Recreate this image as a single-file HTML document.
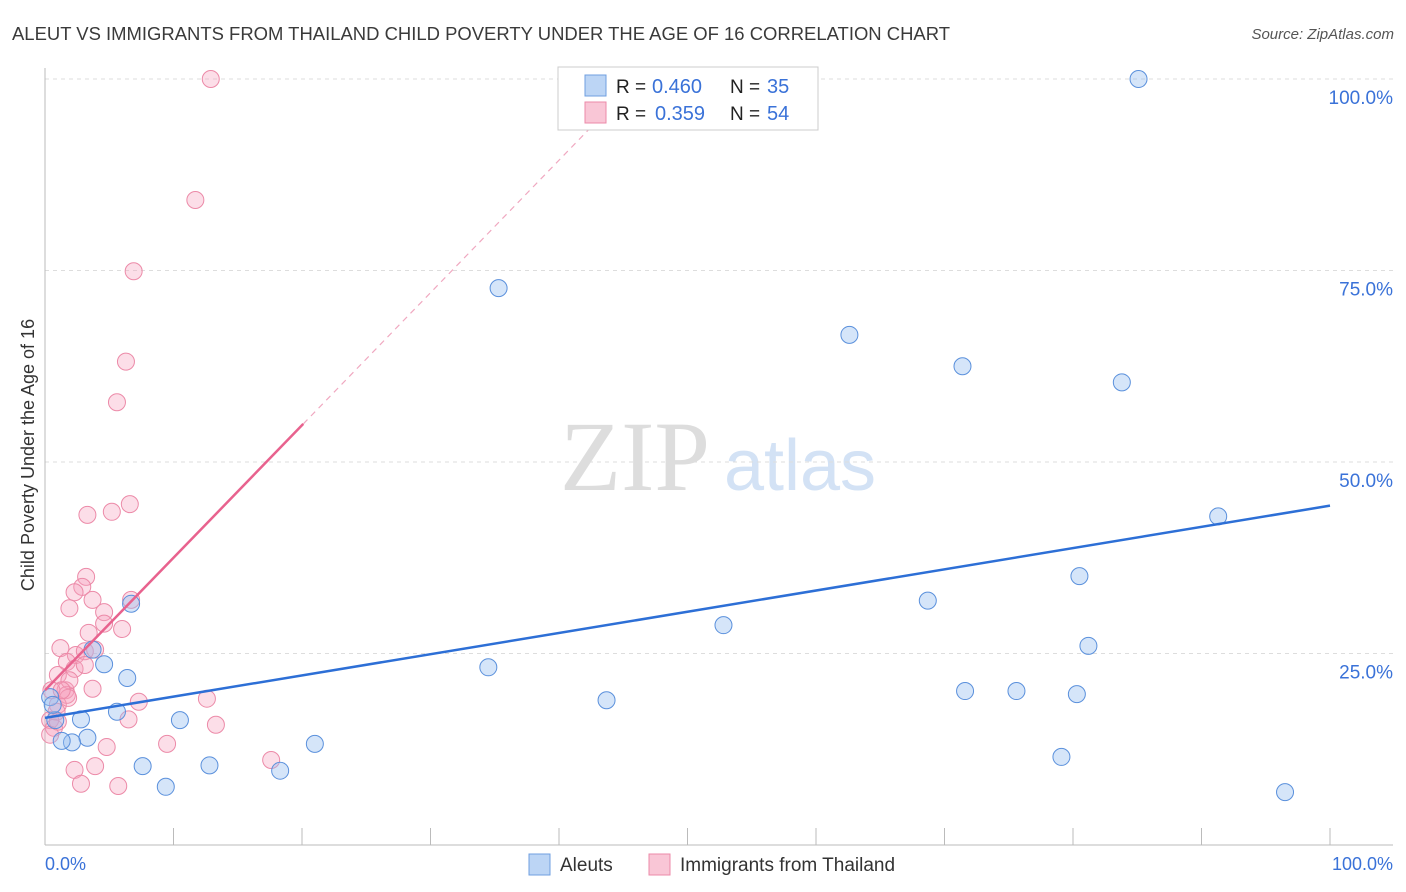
<!DOCTYPE html>
<html><head><meta charset="utf-8"><style>
body{margin:0;background:#fff;font-family:"Liberation Sans",sans-serif;}
</style></head><body>
<svg width="1406" height="892" style="display:block">
<text x="12" y="40" font-size="18" fill="#3a3a3a" textLength="938" lengthAdjust="spacingAndGlyphs">ALEUT VS IMMIGRANTS FROM THAILAND CHILD POVERTY UNDER THE AGE OF 16 CORRELATION CHART</text>
<text x="1394" y="39" font-size="15" font-style="italic" fill="#555" text-anchor="end">Source: ZipAtlas.com</text>
<text x="34" y="455" font-size="18" fill="#333" text-anchor="middle" transform="rotate(-90 34 455)">Child Poverty Under the Age of 16</text>
<g>
<text x="635" y="490" font-size="100" font-family="Liberation Serif,serif" fill="#ddd" text-anchor="middle">ZIP</text>
<text x="800" y="490" font-size="72" fill="#d3e2f5" text-anchor="middle">atlas</text>
</g>
<g id="grid"></g>
<g id="marks"></g>
<g>
<rect x="558" y="67" width="260" height="63" fill="#fff" stroke="#ccc"/>
<rect x="585" y="75" width="21" height="21" fill="#bcd5f5" stroke="#6f9fe0"/>
<rect x="585" y="102" width="21" height="21" fill="#f9c6d6" stroke="#ec8aa8"/>
<text x="616" y="93" font-size="19" fill="#222">R =</text>
<text x="652" y="93" font-size="20" fill="#3a72d8">0.460</text>
<text x="730" y="93" font-size="19" fill="#222">N =</text>
<text x="767" y="93" font-size="20" fill="#3a72d8">35</text>
<text x="616" y="120" font-size="19" fill="#222">R =</text>
<text x="655" y="120" font-size="20" fill="#3a72d8">0.359</text>
<text x="730" y="120" font-size="19" fill="#222">N =</text>
<text x="767" y="120" font-size="20" fill="#3a72d8">54</text>
</g>
<g>
<rect x="529" y="854" width="21" height="21" fill="#bcd5f5" stroke="#6f9fe0"/>
<text x="560" y="871" font-size="19" fill="#333">Aleuts</text>
<rect x="649" y="854" width="21" height="21" fill="#f9c6d6" stroke="#ec8aa8"/>
<text x="680" y="871" font-size="19" fill="#333">Immigrants from Thailand</text>
</g>
<text x="45" y="870" font-size="18" fill="#3a72d8">0.0%</text>
<text x="1393" y="870" font-size="18" fill="#3a72d8" text-anchor="end">100.0%</text>
</svg>
<script>
const blueX=[85.1,35.3,62.6,71.4,83.8,91.3,80.5,68.7,52.8,81.2,34.5,43.7,71.6,75.6,80.3,79.1,96.5,21.0,18.3,12.8,9.4,7.6,10.5,6.7,6.4,4.6,3.7,5.6,3.3,2.8,2.1,1.3,0.8,0.4,0.6];
const blueY=[100,72.7,66.6,62.5,60.4,42.9,35.1,31.9,28.7,26.0,23.2,18.9,20.1,20.1,19.7,11.5,6.9,13.2,9.7,10.4,7.6,10.3,16.3,31.5,21.8,23.6,25.5,17.4,14.0,16.4,13.4,13.6,16.3,19.3,18.3];
const pinkX=[12.9,11.7,6.9,6.3,5.6,6.6,3.3,5.2,3.2,2.9,2.3,3.7,1.9,6.7,4.6,6.0,4.6,3.4,1.2,2.4,3.1,3.9,1.7,2.3,3.1,1.0,1.6,3.7,1.7,0.5,1.0,0.9,0.4,0.7,0.4,7.3,6.5,12.6,13.3,9.5,4.8,3.9,2.3,2.8,5.7,17.6,1.8,1.9,1.3,1.0];
const pinkY=[100,84.2,74.9,63.1,57.8,44.5,43.1,43.5,35.0,33.7,33.0,32.0,30.9,32.0,30.4,28.2,28.9,27.7,25.7,24.8,25.3,25.5,23.9,23.0,23.5,22.2,20.2,20.4,19.6,20.2,18.3,17.4,16.3,15.3,14.4,18.7,16.4,19.1,15.7,13.2,12.8,10.3,9.8,8.0,7.7,11.1,19.2,21.5,20.2,16.1];
const blueTrend=[16.6,44.3];
const pinkTrend=[20.2,1.73];
const yTicks=[25,50,75,100];
const xTicks=[0,10,20,30,40,50,60,70,80,90,100];
const NS='http://www.w3.org/2000/svg';
const sx=v=>45+v*12.85, sy=v=>845-v*7.66;
function mk(tag,attrs,parent){const e=document.createElementNS(NS,tag);for(const k in attrs)e.setAttribute(k,attrs[k]);parent.appendChild(e);return e;}
const grid=document.getElementById('grid'), marks=document.getElementById('marks');
yTicks.forEach(t=>{
 const l=mk('line',{x1:45,x2:1393,y1:sy(t),y2:sy(t),stroke:'#ddd','stroke-dasharray':'4,4'},grid);
 
 
 const tx=mk('text',{x:1393,y:sy(t)+25,'font-size':19,fill:'#3a72d8','text-anchor':'end'},grid);
 tx.textContent=t.toFixed(1)+'%';
 
 
});
mk('line',{x1:45,x2:45,y1:68,y2:845,stroke:'#bbb'},grid);
mk('line',{x1:45,x2:1393,y1:845,y2:845,stroke:'#bbb'},grid);
xTicks.forEach(t=>{
 const l=mk('line',{x1:sx(t),x2:sx(t),y1:828,y2:845,stroke:'#bbb'},grid);
 
 
});
pinkX.forEach((v,i)=>{
 const c=mk('circle',{cx:sx(v),cy:sy(pinkY[i]),r:8.5,fill:'rgba(245,160,188,0.35)',stroke:'#ec8aa8','stroke-width':1},marks);
 
 
});
blueX.forEach((v,i)=>{
 const c=mk('circle',{cx:sx(v),cy:sy(blueY[i]),r:8.5,fill:'rgba(150,190,240,0.4)',stroke:'#5a90dc','stroke-width':1},marks);
 
 
});
const bt=mk('line',{x1:sx(0),y1:sy(blueTrend[0]),x2:sx(100),y2:sy(blueTrend[1]),stroke:'#2d6fd6','stroke-width':2.5},marks);


const pEnd=20.1, pDash=44;
const pt=mk('line',{x1:sx(0),y1:sy(pinkTrend[0]),x2:sx(pEnd),y2:sy(pinkTrend[0]+pinkTrend[1]*pEnd),stroke:'#e8628e','stroke-width':2.5},marks);


const pd=mk('line',{x1:sx(pEnd),y1:sy(pinkTrend[0]+pinkTrend[1]*pEnd),x2:sx(pDash),y2:sy(pinkTrend[0]+pinkTrend[1]*pDash),stroke:'#f0a8c0','stroke-width':1.2,'stroke-dasharray':'6,5'},marks);


</script>
</body></html>
